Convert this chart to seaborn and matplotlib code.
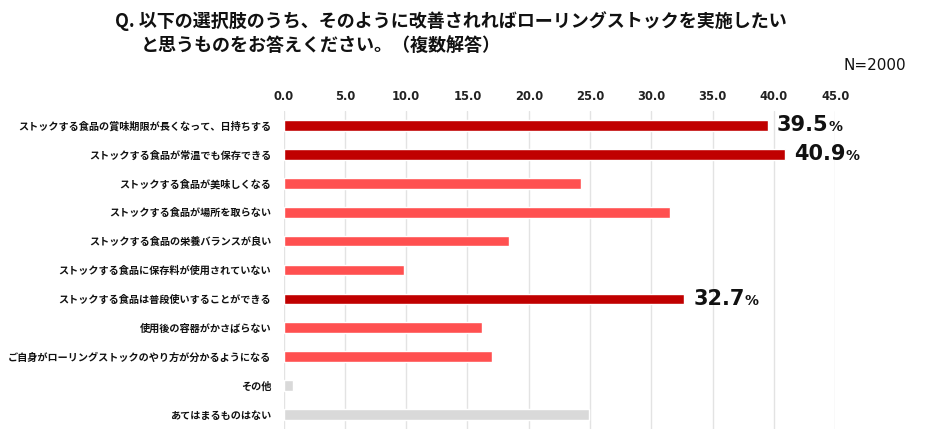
import matplotlib
matplotlib.use("Agg")
import matplotlib.pyplot as plt
import seaborn as sns
import pandas as pd

# ---- data ----
categories = [
    "ストックする食品の賞味期限が長くなって、日持ちする",
    "ストックする食品が常温でも保存できる",
    "ストックする食品が美味しくなる",
    "ストックする食品が場所を取らない",
    "ストックする食品の栄養バランスが良い",
    "ストックする食品に保存料が使用されていない",
    "ストックする食品は普段使いすることができる",
    "使用後の容器がかさばらない",
    "ご自身がローリングストックのやり方が分かるようになる",
    "その他",
    "あてはまるものはない",
]
values = [39.5, 40.9, 24.3, 31.5, 18.4, 9.8, 32.7, 16.2, 17.0, 0.8, 24.9]
groups = ["top", "top", "mid", "mid", "mid", "mid", "top", "mid", "mid", "none", "none"]
tick_values = [0, 5, 10, 15, 20, 25, 30, 35, 40, 45]
title_line1 = "Q. 以下の選択肢のうち、そのように改善されればローリングストックを実施したい"
title_line2 = "と思うものをお答えください。（複数解答）"
n_label = "N=2000"

# ---- styling ----
sns.set_theme(style="white")
plt.rcParams["font.family"] = ["Noto Sans CJK JP", "DejaVu Sans"]

group_colors = {"top": "#C00000", "mid": "#FF5050", "none": "#D9D9D9"}
bar_colors = [group_colors[g] for g in groups]

df = pd.DataFrame({"cat": categories, "val": values})

fig = plt.figure(figsize=(9.4, 4.44), dpi=100)
ax = fig.add_axes([283.5 / 940, 1 - 429 / 444, (835.3 - 283.5) / 940, 318 / 444])

sns.barplot(data=df, x="val", y="cat", hue="cat", palette=bar_colors,
            legend=False, orient="h", width=0.37, ax=ax, saturation=1)

ax.set_xlim(0, 45)
ax.set_ylim(len(categories) - 0.5, -0.5)
ax.set_xticks(tick_values)
ax.set_xticklabels([f"{t:.1f}" for t in tick_values], family="DejaVu Sans",
                   fontweight="bold", fontsize=8.3, color="#222222")
ax.xaxis.tick_top()
ax.tick_params(axis="x", length=0, pad=6)
ax.tick_params(axis="y", length=0, pad=9)
for lbl in ax.get_yticklabels():
    lbl.set_fontsize(7.3)
    lbl.set_fontweight("bold")
    lbl.set_color("#111111")
ax.set_xlabel("")
ax.set_ylabel("")
ax.grid(axis="x", color="#E3E3E3", linewidth=1)
ax.set_axisbelow(True)
for s in ax.spines.values():
    s.set_visible(False)

# value labels for highlighted bars
for i, (v, g) in enumerate(zip(values, groups)):
    if g == "top":
        t = ax.annotate(f"{v:.1f}", xy=(v, i), xytext=(6.5, 0), textcoords="offset points",
                        ha="left", va="center", fontsize=15, fontweight="bold",
                        family="DejaVu Sans", color="#111111")
        ax.annotate("%", xy=(1.0, 0.22), xycoords=t, ha="left", va="baseline",
                    fontsize=10, fontweight="bold", family="DejaVu Sans", color="#111111")

fig.text(115 / 940, 1 - 21 / 444, title_line1, fontsize=13, fontweight="bold",
         va="center", ha="left", color="#111111")
fig.text(141 / 940, 1 - 46 / 444, title_line2, fontsize=13, fontweight="bold",
         va="center", ha="left", color="#111111")
fig.text(906 / 940, 1 - 65 / 444, n_label, fontsize=11, va="center", ha="right",
         family="DejaVu Sans", color="#111111")

fig.savefig("out.png", dpi=100, facecolor="white")
